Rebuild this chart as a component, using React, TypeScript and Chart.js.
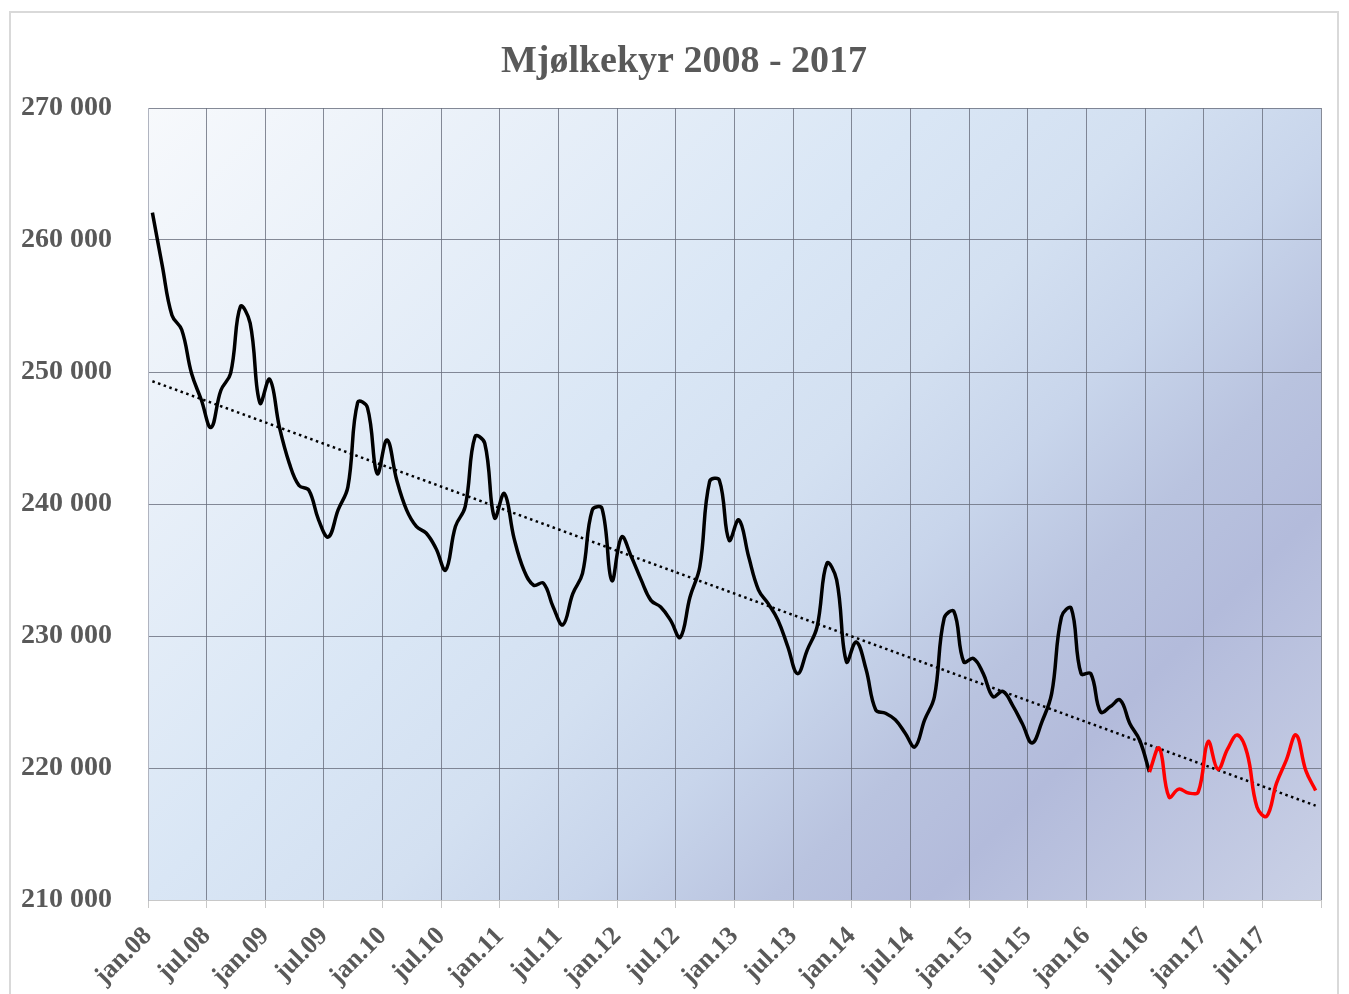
import React, { useEffect, useRef } from 'react';
import { Chart, registerables } from 'chart.js';

Chart.register(...registerables);

const TITLE = 'Mjølkekyr 2008 - 2017';

const X_TICK_LABELS = [
  'jan.08', 'jul.08', 'jan.09', 'jul.09', 'jan.10', 'jul.10', 'jan.11', 'jul.11',
  'jan.12', 'jul.12', 'jan.13', 'jul.13', 'jan.14', 'jul.14', 'jan.15', 'jul.15',
  'jan.16', 'jul.16', 'jan.17', 'jul.17',
];

// Monthly values jan.08 .. dec.17
const VALUES = [
  262070, 258100, 254300, 253200, 249900, 247900, 245800, 248600, 249900, 254950, 253700, 247650,
  249450, 245800, 243100, 241400, 241050, 238800, 237500, 239550, 241300, 247700, 247300, 242300,
  244850, 241800, 239550, 238300, 237800, 236650, 235000, 238300, 239800, 245100, 244600, 238950,
  240800, 237400, 235000, 233850, 234000, 232200, 230850, 233200, 234750, 239550, 239650, 234200,
  237500, 236000, 234250, 232700, 232200, 231200, 229900, 232950, 235250, 241700, 241800, 237250,
  238800, 236000, 233500, 232450, 231200, 229200, 227150, 228950, 230700, 235500, 234250, 228050,
  229550, 227500, 224400, 224150, 223650, 222650, 221600, 223650, 225400, 231350, 231850, 228050,
  228300, 227150, 225400, 225800, 224750, 223350, 221900, 223500, 225650, 231450, 232100, 227150,
  227150, 224250, 224650, 225150, 223350, 222100, 219700, 221500, 217800, 218400, 218100, 218200,
  222000, 219900, 221450, 222500, 221100, 217050, 216350, 218850, 220600, 222500, 219800, 218300,
];

const RED_START = 102; // jul.16
const Y_MIN = 210000;
const Y_MAX = 270000;
const Y_STEP = 10000;
const X_OFFSET = 0.45; // points sit mid-month

const TEXT_COLOR = '#595959';
const FONT_FAMILY = '"Liberation Serif", "Times New Roman", serif';

export default function App() {
  const canvasRef = useRef<HTMLCanvasElement | null>(null);

  useEffect(() => {
    const canvas = canvasRef.current;
    if (!canvas) return;

    const blackData = VALUES.slice(0, RED_START + 1).map((v, i) => ({ x: i + X_OFFSET, y: v }));
    const redData = VALUES.slice(RED_START).map((v, j) => ({ x: RED_START + j + X_OFFSET, y: v }));

    // linear trend line (least squares) over all values
    const n = VALUES.length;
    const xs = VALUES.map((_, i) => i + X_OFFSET);
    const mx = xs.reduce((a, b) => a + b, 0) / n;
    const my = VALUES.reduce((a, b) => a + b, 0) / n;
    let sxy = 0;
    let sxx = 0;
    for (let i = 0; i < n; i++) {
      sxy += (xs[i] - mx) * (VALUES[i] - my);
      sxx += (xs[i] - mx) * (xs[i] - mx);
    }
    const slope = sxy / sxx;
    const icpt = my - slope * mx;
    const trendData = [
      { x: xs[0], y: icpt + slope * xs[0] },
      { x: xs[n - 1], y: icpt + slope * xs[n - 1] },
    ];

    const bgPlugin = {
      id: 'plotBg',
      beforeDraw(chart: any) {
        const { ctx, chartArea } = chart;
        const { left, top, right, bottom } = chartArea;
        const d = ((right - left) + (bottom - top)) / 2;
        const g = ctx.createLinearGradient(left, top, left + d, top + d);
        g.addColorStop(0, '#f7f9fc');
        g.addColorStop(0.4, '#d9e6f5');
        g.addColorStop(0.52, '#d3e0f1');
        g.addColorStop(0.62, '#c8d5eb');
        g.addColorStop(0.72, '#b9c3df');
        g.addColorStop(0.8, '#b3bbdb');
        g.addColorStop(1, '#cad1e6');
        ctx.save();
        ctx.fillStyle = g;
        ctx.fillRect(left, top, right - left, bottom - top);
        ctx.restore();
      },
    };

    const titlePlugin = {
      id: 'titleText',
      afterDraw(chart: any) {
        const { ctx } = chart;
        ctx.save();
        ctx.font = `bold 38px ${FONT_FAMILY}`;
        ctx.fillStyle = TEXT_COLOR;
        ctx.textAlign = 'center';
        ctx.textBaseline = 'alphabetic';
        ctx.fillText(TITLE, 684, 72);
        ctx.restore();
      },
    };

    const chart = new Chart(canvas, {
      type: 'line',
      data: {
        datasets: [
          {
            label: 'trend',
            data: trendData,
            borderColor: '#000000',
            borderWidth: 2.5,
            borderDash: [2.5, 3.5],
            pointRadius: 0,
            tension: 0,
            order: 3,
          },
          {
            label: 'Mjølkekyr',
            data: blackData,
            borderColor: '#000000',
            borderWidth: 3.5,
            pointRadius: 0,
            tension: 0.4,
            order: 2,
          },
          {
            label: 'Mjølkekyr 2016-2017',
            data: redData,
            borderColor: '#ff0000',
            borderWidth: 3.5,
            pointRadius: 0,
            tension: 0.4,
            order: 1,
          },
        ],
      },
      options: {
        animation: false,
        responsive: false,
        devicePixelRatio: 1,
        layout: { padding: { top: 108, right: 28, bottom: 0, left: 0 } },
        plugins: {
          legend: { display: false },
          title: { display: false },
          tooltip: { enabled: false },
        },
        scales: {
          x: {
            type: 'linear',
            min: 0,
            max: 120,
            afterFit(scale: any) {
              scale.height = 94;
              scale.paddingLeft = 0;
              scale.paddingRight = 0;
            },
            ticks: {
              stepSize: 6,
              autoSkip: false,
              maxRotation: 45,
              minRotation: 45,
              padding: 13,
              color: TEXT_COLOR,
              font: { family: FONT_FAMILY, size: 26, weight: 'bold' },
              callback: (v: any) => {
                const idx = Math.round(Number(v) / 6);
                return idx < X_TICK_LABELS.length ? X_TICK_LABELS[idx] : '';
              },
            },
            grid: {
              color: 'rgba(105,110,125,0.8)',
              lineWidth: 1,
              tickLength: 8,
              drawTicks: true,
              tickColor: '#c8c8c8',
            },
            border: { color: '#c8c8c8', width: 1 },
          },
          y: {
            type: 'linear',
            min: Y_MIN,
            max: Y_MAX,
            afterFit(scale: any) {
              scale.width = 148;
              scale.paddingTop = 0;
              scale.paddingBottom = 0;
            },
            ticks: {
              stepSize: Y_STEP,
              padding: 36,
              color: TEXT_COLOR,
              font: { family: FONT_FAMILY, size: 28, weight: 'bold' },
              callback: (v: any) => `${Math.round(Number(v) / 1000)} 000`,
            },
            grid: {
              color: 'rgba(105,110,125,0.8)',
              lineWidth: 1,
              drawTicks: false,
            },
            border: { color: '#b0b4c0', width: 1 },
          },
        },
      },
      plugins: [bgPlugin, titlePlugin],
    });

    return () => {
      chart.destroy();
    };
  }, []);

  return (
    <div
      style={{
        position: 'fixed',
        left: 0,
        top: 0,
        width: 1349,
        height: 994,
        background: '#ffffff',
        overflow: 'hidden',
      }}
    >
      <div
        style={{
          position: 'absolute',
          left: 9,
          top: 11,
          width: 1330,
          height: 1000,
          border: '2px solid #d9d9d9',
          boxSizing: 'border-box',
        }}
      />
      <canvas
        ref={canvasRef}
        width={1349}
        height={994}
        style={{ position: 'absolute', left: 0, top: 0, width: 1349, height: 994 }}
      />
    </div>
  );
}
